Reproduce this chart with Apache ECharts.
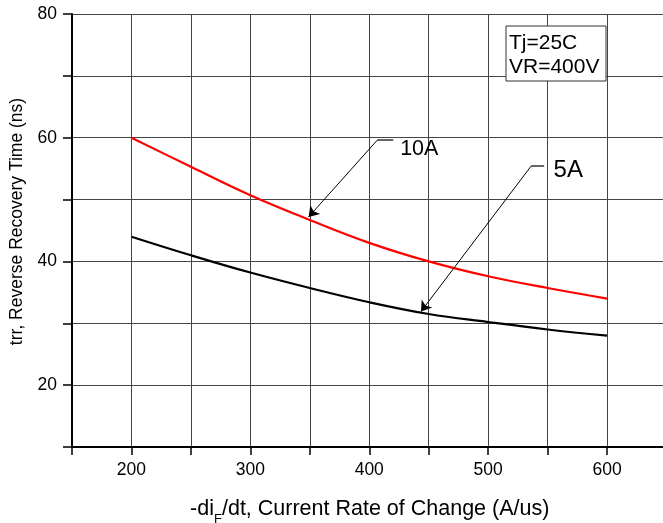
<!DOCTYPE html>
<html>
<head>
<meta charset="utf-8">
<script src="https://cdn.jsdelivr.net/npm/echarts@6/dist/echarts.min.js"></script>
<style>
html,body{margin:0;padding:0;background:#fff;}
#chart{width:663px;height:523px;}
</style>
</head>
<body>
<div id="chart"></div>
<script>
// ---- data ----
const xValues = [200, 250, 300, 350, 400, 450, 500, 550, 600];
const trr10A = [60.0, 55.3, 50.7, 46.7, 43.0, 40.0, 37.6, 35.7, 34.0];
const trr5A  = [44.0, 41.0, 38.2, 35.7, 33.4, 31.5, 30.2, 29.0, 28.0];
const xTickLabels = [200, 300, 400, 500, 600];
const yTickLabels = [20, 40, 60, 80];
// annotation anchors (data coordinates)
const label10A = {text: '10A', leaderStart: [406.7, 59.6], leaderEnd: [420.2, 59.6], arrowTip: [349, 47.2], textAt: [426.0, 58.2]};
const label5A  = {text: '5A',  leaderStart: [536.1, 55.4], leaderEnd: [547.1, 55.4], arrowTip: [443.5, 31.9], textAt: [555.0, 54.8]};
const conditions = ['Tj=25C', 'VR=400V'];

const FONT = 'Liberation Sans, Arial, sans-serif';
const chart = echarts.init(document.getElementById('chart'), null, {renderer: 'canvas'});

function zip(xs, ys) { return xs.map((x, i) => [x, ys[i]]); }

function annotationLines(a) {
  return [
    [{coord: a.leaderStart, symbol: 'none', lineStyle: {color: '#666', width: 2}},
     {coord: a.leaderEnd, symbol: 'none'}],
    [{coord: a.leaderStart, symbol: 'none'},
     {coord: a.arrowTip, symbol: 'arrow', symbolSize: 10}]
  ];
}

const option = {
  backgroundColor: '#fff',
  animation: false,
  grid: {left: 72, top: 14, bottom: 76, right: -3.5, containLabel: false, outerBoundsMode: 'none'},
  xAxis: {
    type: 'value', min: 150, max: 650, interval: 50,
    name: '-di{sub|F}/dt, Current Rate of Change (A/us)',
    nameLocation: 'middle', nameGap: 51,
    nameTextStyle: {
      color: '#000', fontFamily: FONT, fontSize: 21.5, padding: [0, 0, 0, 1],
      rich: {sub: {fontSize: 13, lineHeight: 13, padding: [20, 0, 0, 0], color: '#000', fontFamily: FONT}}
    },
    axisLine: {show: true, onZero: false, lineStyle: {color: '#000', width: 2}},
    axisTick: {show: true, length: 8, lineStyle: {color: '#000', width: 1.5}},
    axisLabel: {
      color: '#000', fontFamily: FONT, fontSize: 17.5, margin: 14, showMinLabel: true, showMaxLabel: true,
      formatter: v => xTickLabels.includes(v) ? String(v) : ''
    },
    splitLine: {show: true, lineStyle: {color: '#444', width: 1}}
  },
  yAxis: {
    type: 'value', min: 10, max: 80, interval: 10,
    name: 'trr, Reverse Recovery Time (ns)',
    nameLocation: 'middle', nameGap: 45,
    nameTextStyle: {color: '#000', fontFamily: FONT, fontSize: 17.5, padding: [0, 0, 0, 18]},
    axisLine: {show: true, onZero: false, lineStyle: {color: '#000', width: 2}},
    axisTick: {show: true, length: 9, lineStyle: {color: '#000', width: 1.5}},
    axisLabel: {
      color: '#000', fontFamily: FONT, fontSize: 17.5, margin: 15,
      formatter: v => yTickLabels.includes(v) ? String(v) : ''
    },
    splitLine: {show: true, lineStyle: {color: '#444', width: 1}}
  },
  series: [
    {
      name: '10A', type: 'line', data: zip(xValues, trr10A), smooth: 0.4,
      showSymbol: false, symbol: 'none',
      lineStyle: {color: '#ff0000', width: 2.2},
      markLine: {
        silent: true, animation: false,
        lineStyle: {color: '#000', width: 1, type: 'solid'},
        label: {show: false},
        data: annotationLines(label10A)
      },
      markPoint: {
        silent: true, symbolSize: 0,
        data: [{coord: label10A.textAt, value: label10A.text,
          label: {show: true, position: 'right', distance: 0, formatter: label10A.text,
                  color: '#000', fontFamily: FONT, fontSize: 21.5}}]
      },
      z: 3
    },
    {
      name: '5A', type: 'line', data: zip(xValues, trr5A), smooth: 0.4,
      showSymbol: false, symbol: 'none',
      lineStyle: {color: '#000', width: 2.2},
      markLine: {
        silent: true, animation: false,
        lineStyle: {color: '#000', width: 1, type: 'solid'},
        label: {show: false},
        data: annotationLines(label5A)
      },
      markPoint: {
        silent: true, symbolSize: 0,
        data: [{coord: label5A.textAt, value: label5A.text,
          label: {show: true, position: 'right', distance: 0, formatter: label5A.text,
                  color: '#000', fontFamily: FONT, fontSize: 24}}]
      },
      z: 3
    }
  ],
  graphic: [
    {type: 'rect', left: 505.5, top: 25.5, shape: {width: 100, height: 55},
     style: {fill: '#fff', stroke: '#333', lineWidth: 1}, z: 100},
    {type: 'text', left: 509, top: 31, z: 101,
     style: {text: conditions.join('\n'), fill: '#000', font: '21px ' + FONT, lineHeight: 24}}
  ]
};
chart.setOption(option);
</script>
</body>
</html>
